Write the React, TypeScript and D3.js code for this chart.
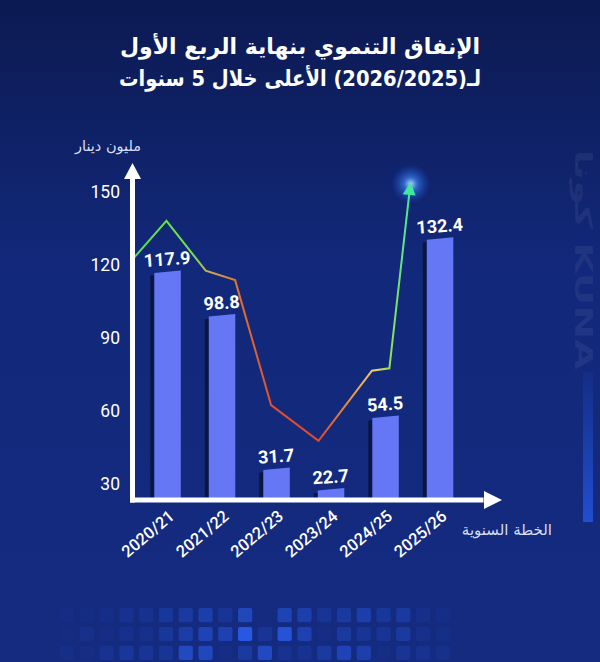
import React from 'react';
import * as d3 from 'd3';

// fiscal years on the x axis
const years = ['2020/21', '2021/22', '2022/23', '2023/24', '2024/25', '2025/26'];
// development spending, million KD
const spending = [117.9, 98.8, 31.7, 22.7, 54.5, 132.4];
const axisTicks = [30, 60, 90, 120, 150];

// decorative trend line: position in bar units, value on the axis scale
const trendPos = [-0.65, -0.02, 0.7, 1.24, 1.9, 2.77, 3.75, 4.07, 4.46];
const trendValues = [122, 138, 117.6, 113.7, 62.4, 47.7, 76.5, 77.5, 154];

// footer pixel strip, brightness of each square
const pixelRow1 = [0.05, 0.05, 0.08, 0.15, 0.15, 0.25, 0.3, 0.4, 0.2, 0.55, 0, 0.5, 0.4, 0.2, 0.3, 0.4, 0.25, 0.3, 0.1, 0.08];
const pixelRow2 = [0.02, 0.1, 0.05, 0.12, 0.1, 0.25, 0.35, 0.5, 0.45, 0.9, 0.2, 0.8, 0.45, 0.05, 0.3, 0.2, 0.2, 0.3, 0.1, 0.08];
const pixelRow3 = [0.08, 0.05, 0.15, 0.25, 0.2, 0.2, 0.6, 0.55, 0.05, 0.3, 0.6, 0.15, 0.15, 0.3, 0.5, 0.4, 0.05, 0.2, 0.15, 0.1];

const titleLine1 = 'الإنفاق التنموي بنهاية الربع الأول';
const titleLine2 = 'لـ(2026/2025) الأعلى خلال 5 سنوات';
const yTitle = 'مليون دينار';
const xTitle = 'الخطة السنوية';

const W = 600;
const H = 662;
const AR = '"DejaVu Sans", "Noto Sans", sans-serif';
const NUM = 'Roboto, "Noto Sans", sans-serif';

const App = () => {
  const axisX = 132.5;
  const baseY = 500;

  const x = d3.scaleBand<string>()
    .domain(years)
    .range([154.3, 453.3])
    .paddingInner(0.514)
    .paddingOuter(0);

  const centerOf = d3.scaleLinear()
    .domain([0, years.length - 1])
    .range([x(years[0])! + x.bandwidth() / 2, x(years[years.length - 1])! + x.bandwidth() / 2]);

  // printed axis
  const yAxis = d3.scaleLinear().domain([30, 150]).range([484, 191.7]);
  // bar heights in the graphic follow their own scale
  const yBar = d3.scaleLinear().domain([0, 150]).range([541, 198]);

  const trendPts: [number, number][] = trendPos.map((p, i) => [centerOf(p), yAxis(trendValues[i])]);
  const last = trendPts[trendPts.length - 1];
  const prev = trendPts[trendPts.length - 2];
  const ang = Math.atan2(last[1] - prev[1], last[0] - prev[0]);
  const headLen = 13;
  const headW = 6.5;
  const baseX = last[0] - headLen * Math.cos(ang);
  const baseYh = last[1] - headLen * Math.sin(ang);
  const linePts = [...trendPts.slice(0, -1), [baseX + 2 * Math.cos(ang), baseYh + 2 * Math.sin(ang)] as [number, number]];
  const line = d3.line();
  const head = [
    [last[0], last[1]],
    [baseX + headW * Math.sin(ang), baseYh - headW * Math.cos(ang)],
    [baseX - headW * Math.sin(ang), baseYh + headW * Math.cos(ang)],
  ].map(p => p.join(',')).join(' ');

  const pixelRows = [pixelRow1, pixelRow2, pixelRow3];
  const px = d3.scaleBand<number>().domain(d3.range(20)).range([60, 450]).paddingInner(0.28);
  const py = d3.scaleBand<number>().domain(d3.range(3)).range([608, 660]).paddingInner(0.25);

  return (
    <svg width={W} height={H} style={{ position: 'absolute', left: 0, top: 0, display: 'block' }}>
      <defs>
        <linearGradient id="bg" x1="0" y1="0" x2="0" y2="1">
          <stop offset="0" stopColor="#0c1a52" />
          <stop offset="0.4" stopColor="#12287a" />
          <stop offset="1" stopColor="#142b80" />
        </linearGradient>
        <linearGradient id="trend" gradientUnits="userSpaceOnUse" x1={axisX} y1="0" x2={last[0]} y2="0">
          <stop offset="0" stopColor="#58e04c" />
          <stop offset="0.22" stopColor="#74e04c" />
          <stop offset="0.28" stopColor="#d8a848" />
          <stop offset="0.38" stopColor="#e07030" />
          <stop offset="0.5" stopColor="#e0502c" />
          <stop offset="0.68" stopColor="#e04a2c" />
          <stop offset="0.8" stopColor="#e8a040" />
          <stop offset="0.87" stopColor="#f0d070" />
          <stop offset="0.93" stopColor="#90e050" />
          <stop offset="1" stopColor="#40e8a0" />
        </linearGradient>
        <radialGradient id="glow">
          <stop offset="0" stopColor="#bfe4ff" stopOpacity="0.95" />
          <stop offset="0.35" stopColor="#3f8cff" stopOpacity="0.6" />
          <stop offset="1" stopColor="#1a4fd0" stopOpacity="0" />
        </radialGradient>
        <linearGradient id="strip" x1="0" y1="0" x2="0" y2="1">
          <stop offset="0" stopColor="#2352d8" stopOpacity="0.1" />
          <stop offset="1" stopColor="#2352d8" stopOpacity="0.9" />
        </linearGradient>
      </defs>

      <rect width={W} height={H} fill="url(#bg)" />

      {/* watermark */}
      <text
        transform="translate(583,150) rotate(90)"
        fontFamily={AR}
        fontWeight="bold"
        fontSize={24}
        fill="#ffffff"
        fillOpacity={0.07}
        dominantBaseline="central"
        textLength={220}
        lengthAdjust="spacingAndGlyphs"
      >
        كونا KUNA
      </text>
      <rect x={583} y={372} width={10} height={150} fill="url(#strip)" />

      {/* title */}
      <g fontFamily={AR} fontWeight="bold" fontSize={22} fill="#ffffff" textAnchor="middle">
        <text x={W / 2} y={54} direction="rtl">{titleLine1}</text>
        <text x={W / 2} y={86} direction="rtl" textLength={362} lengthAdjust="spacingAndGlyphs">{titleLine2}</text>
      </g>

      <text x={141} y={151} textAnchor="end" fontFamily={AR} fontSize={14.5} fill="#d6def5">{yTitle}</text>
      <text x={552} y={535} textAnchor="end" fontFamily={AR} fontSize={15} fill="#d6def5">{xTitle}</text>

      {/* y tick labels */}
      <g fontFamily={NUM} fontSize={17.5} fill="#ffffff" textAnchor="end">
        {axisTicks.map(t => (
          <text key={t} x={120} y={yAxis(t)} dominantBaseline="central">{t}</text>
        ))}
      </g>

      {/* trend line */}
      <circle cx={last[0]} cy={last[1] + 2} r={20} fill="url(#glow)" />
      <path d={line(linePts) || ''} fill="none" stroke="url(#trend)" strokeWidth={2} strokeLinejoin="miter" />
      <polygon points={head} fill="#40e8a0" />

      {/* bars */}
      {years.map((yr, i) => {
        const bx = x(yr)!;
        const bw = x.bandwidth();
        const top = yBar(spending[i]);
        const face = `M${bx},${top + 1.5} L${bx + bw},${top - 1} L${bx + bw},${baseY} L${bx},${baseY} Z`;
        return (
          <g key={yr}>
            <rect x={bx - 4} y={top + 4} width={4} height={baseY - top - 4} fill="#0a1541" />
            <path d={face} fill="#6677f5" />
            <text
              transform={`translate(${bx + bw / 2},${top - 6}) rotate(-4)`}
              textAnchor="middle"
              fontFamily={NUM}
              fontWeight="bold"
              fontSize={18}
              fill="#ffffff"
            >
              {spending[i]}
            </text>
          </g>
        );
      })}

      {/* axes with arrow heads */}
      <rect x={axisX - 2.5} y={176} width={5} height={baseY - 176 + 2.5} fill="#ffffff" />
      <polygon points={`${axisX},163 ${axisX - 8.5},179 ${axisX + 8.5},179`} fill="#ffffff" />
      <rect x={axisX - 2.5} y={baseY - 2.5} width={486 - axisX} height={5} fill="#ffffff" />
      <polygon points={`502,${baseY} 484,${baseY - 9} 484,${baseY + 9}`} fill="#ffffff" />

      {/* x tick labels */}
      <g fontFamily={NUM} fontWeight={500} fontSize={16.5} fill="#ffffff" textAnchor="end">
        {years.map(yr => (
          <text key={yr} transform={`translate(${x(yr)! + x.bandwidth() / 2 + 8},518) rotate(-40)`}>{yr}</text>
        ))}
      </g>

      {/* footer pixels */}
      {pixelRows.map((row, r) =>
        row.map((v, c) => (
          <rect
            key={`${r}-${c}`}
            x={px(c)}
            y={py(r)}
            width={px.bandwidth()}
            height={py.bandwidth()}
            rx={2}
            fill="#2f66ff"
            fillOpacity={v * 0.85}
          />
        ))
      )}
    </svg>
  );
};

export default App;
